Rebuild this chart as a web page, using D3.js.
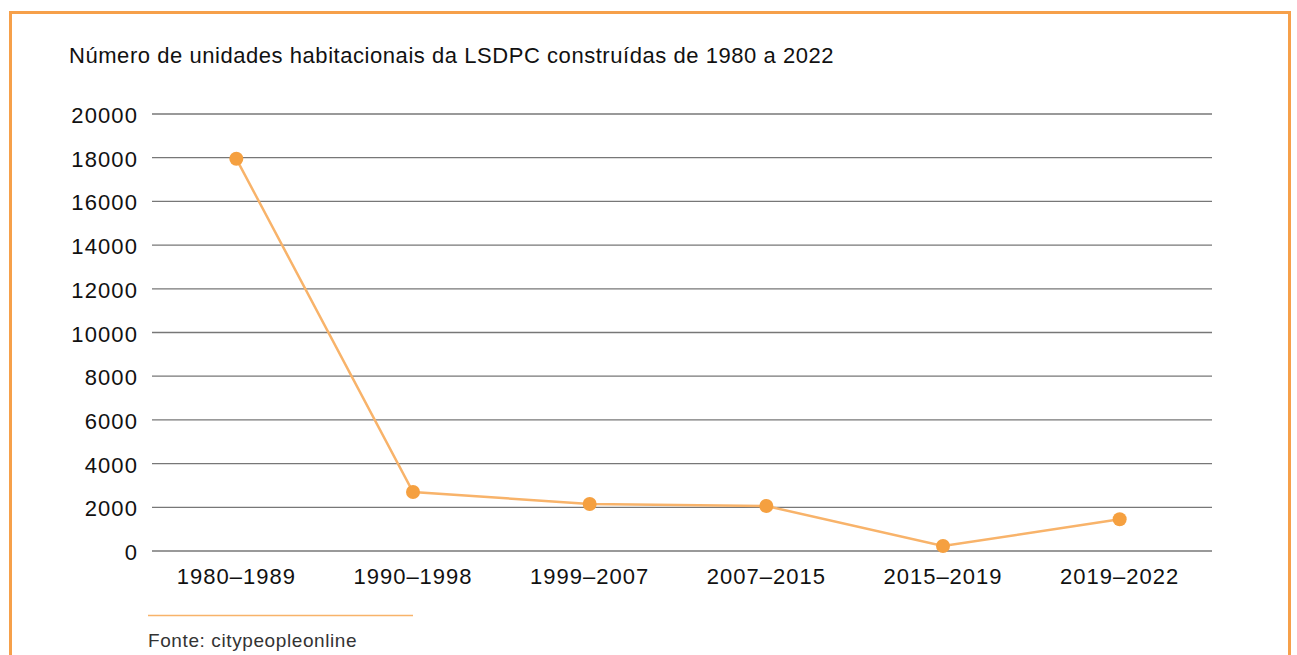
<!DOCTYPE html>
<html>
<head>
<meta charset="utf-8">
<script src="https://cdn.jsdelivr.net/npm/d3@7"></script>
<style>
  body { margin: 0; background: #fff; }
  svg { display: block; font-family: "Liberation Sans", Arial, sans-serif; }
</style>
</head>
<body>
<svg id="chart" width="1297" height="655"></svg>
<script>
const periods = ["1980–1989", "1990–1998", "1999–2007", "2007–2015", "2015–2019", "2019–2022"];
const units = [17950, 2700, 2150, 2060, 230, 1450];
const yTicks = [0, 2000, 4000, 6000, 8000, 10000, 12000, 14000, 16000, 18000, 20000];

const svg = d3.select("#chart");

// orange frame
svg.append("rect")
    .attr("x", 10.5).attr("y", 12.5)
    .attr("width", 1279).attr("height", 660)
    .attr("fill", "none")
    .attr("stroke", "#F6A04A")
    .attr("stroke-width", 3);

svg.append("text")
    .attr("x", 69).attr("y", 63)
    .attr("font-size", 22)
    .attr("letter-spacing", 0.55)
    .attr("fill", "#111")
    .text("Número de unidades habitacionais da LSDPC construídas de 1980 a 2022");

const y = d3.scaleLinear().domain([0, 20000]).range([551, 114]);
const x = d3.scalePoint().domain(periods).range([148, 1208]).padding(0.5);

// gridlines
const grid = svg.append("g");
grid.selectAll("line")
    .data(yTicks)
    .join("line")
    .attr("x1", 152).attr("x2", 1212)
    .attr("y1", d => y(d)).attr("y2", d => y(d))
    .attr("stroke", "#777")
    .attr("stroke-width", 1.3);

grid.selectAll("text")
    .data(yTicks)
    .join("text")
    .attr("x", 138)
    .attr("y", d => y(d) + 9)
    .attr("text-anchor", "end")
    .attr("font-size", 22)
    .attr("letter-spacing", 1.1)
    .attr("fill", "#111")
    .text(d => d);

svg.append("g").selectAll("text")
    .data(periods)
    .join("text")
    .attr("x", d => x(d))
    .attr("y", 584)
    .attr("text-anchor", "middle")
    .attr("font-size", 22)
    .attr("letter-spacing", 1)
    .attr("fill", "#111")
    .text(d => d);

const pts = periods.map((p, i) => ({ p, v: units[i] }));

svg.append("path")
    .datum(pts)
    .attr("fill", "none")
    .attr("stroke", "#F8B36A")
    .attr("stroke-width", 2.5)
    .attr("d", d3.line().x(d => x(d.p)).y(d => y(d.v)));

svg.append("g").selectAll("circle")
    .data(pts)
    .join("circle")
    .attr("cx", d => x(d.p))
    .attr("cy", d => y(d.v))
    .attr("r", 7)
    .attr("fill", "#F5A040");

// source note
svg.append("line")
    .attr("x1", 148).attr("x2", 413)
    .attr("y1", 615.5).attr("y2", 615.5)
    .attr("stroke", "#F8B36A")
    .attr("stroke-width", 1.5);

svg.append("text")
    .attr("x", 148).attr("y", 647)
    .attr("font-size", 19)
    .attr("letter-spacing", 0.6)
    .attr("fill", "#333")
    .text("Fonte: citypeopleonline");
</script>
</body>
</html>
